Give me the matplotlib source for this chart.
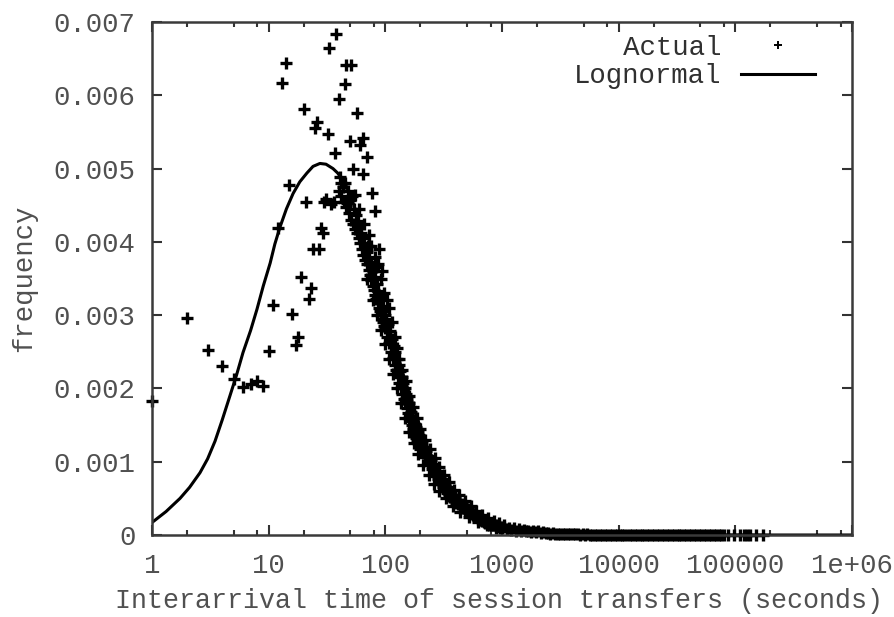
import matplotlib
matplotlib.use("Agg")
import matplotlib.pyplot as plt
from matplotlib.ticker import FixedLocator, NullFormatter

# sparse points at short interarrival times
low_x = [1, 2, 3, 4, 5, 6, 7, 8, 9, 10, 11, 12, 13, 14, 15, 16, 17, 18, 19,
         20, 21, 22, 23, 24, 25, 26, 27, 28, 29, 30, 31, 32, 33, 34, 36, 37,
         38, 40, 42, 45, 46, 50, 51, 53, 55, 57, 61, 64, 64.5, 70, 77, 81]
low_y = [0.00183, 0.00296, 0.00252, 0.00231, 0.00213, 0.00202, 0.00206,
         0.00210, 0.00203, 0.00251, 0.00314, 0.00419, 0.00617, 0.00644,
         0.00477, 0.00301, 0.00259, 0.00270, 0.00352, 0.00581, 0.00454,
         0.00322, 0.00337, 0.00390, 0.00556, 0.00563, 0.00390, 0.00419,
         0.00412, 0.00454, 0.00458, 0.00547, 0.00664, 0.00452, 0.00455,
         0.00521, 0.00683, 0.00595, 0.00480, 0.00615, 0.00641, 0.00537,
         0.00641, 0.00499, 0.00464, 0.00576, 0.00532, 0.00542, 0.00492,
         0.00516, 0.00467, 0.00442]

# the dense descending cloud
cloud_x = list(range(40, 101)) + list(range(102, 201, 2)) + \
    list(range(205, 401, 5)) + list(range(410, 801, 10)) + \
    list(range(820, 1001, 20))
cloud_y = [
    0.00470, 0.00488, 0.00462, 0.00475, 0.00455, 0.00481, 0.00448, 0.00453,
    0.00470, 0.00440, 0.00457, 0.00430, 0.00462, 0.00425, 0.00445, 0.00418,
    0.00436, 0.00412, 0.00428, 0.00405, 0.00422, 0.00398, 0.00412, 0.00390,
    0.00405, 0.00382, 0.00398, 0.00375, 0.00392, 0.00370, 0.00386, 0.00395,
    0.00362, 0.00378, 0.00355, 0.00372, 0.00348, 0.00366, 0.00340, 0.00360,
    0.00335, 0.00352, 0.00328, 0.00366, 0.00322, 0.00342, 0.00318, 0.00333,
    0.00310, 0.00390, 0.00305, 0.00325, 0.00300, 0.00360, 0.00295, 0.00312,
    0.00290, 0.00305, 0.00285, 0.00300, 0.00282,
    0.00295, 0.00270, 0.00288, 0.00262, 0.00278, 0.00250, 0.00268, 0.00242,
    0.00258, 0.00232, 0.00250, 0.00225, 0.00240, 0.00216, 0.00232, 0.00208,
    0.00224, 0.00200, 0.00216, 0.00193, 0.00208, 0.00186, 0.00200, 0.00180,
    0.00193, 0.00173, 0.00186, 0.00166, 0.00180, 0.00160, 0.00174, 0.00155,
    0.00168, 0.00150, 0.00162, 0.00145, 0.00157, 0.00141, 0.00152, 0.00136,
    0.00148, 0.00132, 0.00144, 0.00128, 0.00140, 0.00125, 0.00136, 0.00121,
    0.00132, 0.00118,
    0.00126, 0.00112, 0.00120, 0.00106, 0.00114, 0.00100, 0.00108, 0.00095,
    0.00103, 0.00090, 0.00097, 0.00085, 0.00093, 0.00081, 0.00088, 0.00077,
    0.00084, 0.00073, 0.00080, 0.00070, 0.00076, 0.00066, 0.00073, 0.00063,
    0.00069, 0.00060, 0.00066, 0.00057, 0.00063, 0.00054, 0.00060, 0.00052,
    0.00057, 0.00050, 0.00055, 0.00048, 0.00052, 0.00046, 0.00050, 0.00044,
    0.00047, 0.00042, 0.00045, 0.00039, 0.00042, 0.00037, 0.00039, 0.00034,
    0.00037, 0.00032, 0.00035, 0.00030, 0.00033, 0.00028, 0.00031, 0.00027,
    0.00029, 0.00025, 0.00028, 0.00024, 0.00026, 0.00022, 0.00025, 0.00021,
    0.00024, 0.00020, 0.00022, 0.00019, 0.00021, 0.00018, 0.00020, 0.00017,
    0.00019, 0.00016, 0.00018, 0.00015, 0.00017, 0.00014, 0.00016, 0.00014,
    0.00015, 0.00013, 0.00014, 0.00012, 0.00013, 0.00011, 0.00012, 0.00010,
    0.00011, 0.00009]

# points along the upper and lower edges of the cloud
edge_x = [60, 66, 72, 76, 82, 86, 92, 98, 104, 108, 114, 120, 126, 132, 140,
          150, 160, 172, 185, 200, 220, 240, 265, 290, 320, 350, 390, 430,
          480, 540, 600, 680, 760, 850, 950, 1050,
          70, 78, 85, 92, 100, 108, 116, 125, 135, 146, 160, 175, 190, 210,
          235, 260, 290, 330, 380, 440, 520, 620, 740, 880]
edge_y = [0.00445, 0.00425, 0.00410, 0.00395, 0.00380, 0.00370, 0.00350,
          0.00330, 0.00320, 0.00310, 0.00290, 0.00270, 0.00255, 0.00240,
          0.00225, 0.00210, 0.00190, 0.00175, 0.00160, 0.00145, 0.00130,
          0.00118, 0.00105, 0.00093, 0.00082, 0.00072, 0.00062, 0.00054,
          0.00046, 0.00039, 0.00033, 0.00027, 0.00023, 0.00019, 0.00016,
          0.00013,
          0.00350, 0.00320, 0.00300, 0.00280, 0.00260, 0.00240, 0.00220,
          0.00200, 0.00180, 0.00160, 0.00140, 0.00125, 0.00110, 0.00095,
          0.00082, 0.00070, 0.00060, 0.00050, 0.00040, 0.00031, 0.00024,
          0.00018, 0.00013, 0.00010]

# long tail along the bottom
tail_x = [1050, 1100, 1150, 1200, 1260, 1320, 1390, 1460, 1530, 1600, 1680,
          1760, 1850, 1940, 2040, 2140, 2250, 2360, 2480, 2600, 2730, 2870,
          3010, 3160, 3320, 3490, 3660, 3840, 4030, 4240, 4450, 4670, 4900,
          5150, 5400, 5670, 5960, 6260, 6570, 6900, 7250, 7610, 7990, 8390,
          8810, 9250, 9710, 10200, 10700, 11200, 11800, 12400, 13000, 13700,
          14300, 15100, 15800, 16600, 17400, 18300, 19200, 20200, 21200,
          22300, 23400, 24500, 25800, 27000, 28400, 29800, 31300, 32900,
          34500, 36200, 38100, 40000, 42000, 44100, 46300, 48600, 51000,
          53600, 56300, 59100, 62000, 65100, 68400, 71800, 75400, 79200,
          86000, 97000, 110000, 118000, 126000, 134000, 150000, 172000]
tail_y = [0.00011, 0.00008, 0.00010, 0.00007, 0.00009, 0.00006, 0.00008,
          0.00005, 0.00007, 0.00005, 0.00006, 0.00004, 0.00005, 0.00004,
          0.00005, 0.00003, 0.00004, 0.00003, 0.00003, 0.00002, 0.00003,
          0.00002, 0.00002, 0.00001, 0.00002, 0.00001, 0.000012, 0.000008,
          0.00001, 0.000007, 0.000009, 0.000006, 0.000008, 0.000005,
          0.000007, 0.000005, 0.000006, 0.000004, 0.000006, 0.000004,
          0.000005, 0.000003, 0.000005, 0.000003, 0.000004, 0.000003,
          0.000004, 0.000002, 0.000004, 0.000002, 0.000003, 0.000002,
          0.000003, 0.000002, 0.000003, 0.000002, 0.000002, 0.000001,
          0.000002, 0.000001, 0.000002, 0.000001, 0.000002, 0.000001,
          0.000002, 0.000001, 0.000001, 0.000001, 0.000002, 0.000001,
          0.000001, 0.000001, 0.000001, 0.000001, 0.000001, 0.000001,
          0.000001, 0.000001, 0.000001, 0.000001, 0.000001, 0.000001,
          0.000001, 0.000001, 0.000001, 0.000001, 0.000001, 0.000001,
          0.000001, 0.000001, 0.000001, 0.000001, 0.000001, 0.000001,
          0.000001, 0.000001, 0.000001, 0.000001]

# fitted lognormal, points
curve_x = [1, 1.32, 1.74, 2.1, 2.58, 3.0, 3.47, 4.0, 4.66, 5.3, 6.03, 7.0,
           7.94, 9.0, 10.3, 11.3, 12.5, 14.2, 16.2, 18.5, 21.3, 24, 27.5, 31,
           35.6, 39, 43.4, 49.8, 55, 60.7, 67, 74, 84, 95.5, 108, 126, 143,
           163, 190, 219, 254, 294, 360, 437, 560, 759, 1000, 1259, 2000,
           4000, 10000, 100000, 1000000]
curve_y = [0.00017, 0.00032, 0.00050, 0.00065, 0.00085, 0.00104, 0.00128,
           0.00157, 0.00190, 0.00218, 0.00249, 0.00279, 0.00308, 0.00340,
           0.00371, 0.00397, 0.00420, 0.00445, 0.00466, 0.00482, 0.00494,
           0.00503, 0.00507, 0.00506, 0.00500, 0.00494, 0.00484, 0.00466,
           0.00445, 0.00420, 0.00397, 0.00371, 0.00340, 0.00308, 0.00279,
           0.00249, 0.00218, 0.00190, 0.00157, 0.00128, 0.00104, 0.00085,
           0.00062, 0.00048, 0.00031, 0.00017, 0.00010, 0.00006, 0.00002,
           0.000003, 0.0, 0.0, 0.0]

yticks = [0, 0.001, 0.002, 0.003, 0.004, 0.005, 0.006, 0.007]
ytick_labels = ["0", "0.001", "0.002", "0.003", "0.004", "0.005", "0.006", "0.007"]
xticks = [1, 10, 100, 1000, 10000, 100000, 1000000]
xtick_labels = ["1", "10", "100", "1000", "10000", "100000", "1e+06"]

mono = "Liberation Mono"
txt = "#505050"
fs = 19.7

fig = plt.figure(figsize=(8.95, 6.17), dpi=100)
ax = fig.add_axes([0.1698, 0.1329, 0.7822, 0.8314])

fit, = ax.plot(curve_x, curve_y, "-", color="black", linewidth=2.2,
               label="Lognormal")
all_x = low_x + cloud_x + edge_x + tail_x
all_y = low_y + cloud_y + edge_y + tail_y
pts, = ax.plot(all_x, all_y, "+", color="black", markersize=8,
               markeredgewidth=2.4, clip_on=False, label="   Actual")

ax.set_xscale("log")
ax.set_xlim(1, 1e6)
ax.set_ylim(0, 0.007)

ax.set_xticks(xticks)
ax.set_xticklabels(xtick_labels)
minors = [m * 10 ** e for e in range(6) for m in (2, 5, 8)]
ax.xaxis.set_minor_locator(FixedLocator(minors))
ax.xaxis.set_minor_formatter(NullFormatter())
ax.set_yticks(yticks)
ax.set_yticklabels(ytick_labels)

ax.tick_params(which="major", direction="in", length=7, width=1.5,
               top=True, right=True, color="#333333", labelcolor=txt,
               labelsize=fs)
ax.tick_params(which="minor", direction="in", length=3.5, width=1.5,
               top=True, right=True, color="#333333")
ax.tick_params(axis="x", pad=13)
ax.tick_params(axis="y", pad=12)
for lab in ax.get_xticklabels() + ax.get_yticklabels():
    lab.set_family(mono)

for s in ax.spines.values():
    s.set_linewidth(1.8)
    s.set_color("#3a3a3a")

ax.set_xlabel("Interarrival time of session transfers (seconds)",
              family=mono, fontsize=19.2, color=txt)
ax.xaxis.set_label_coords(0.495, -0.104)
ax.set_ylabel("frequency", family=mono, fontsize=fs, color=txt, labelpad=12)

leg = ax.legend(handles=[pts, fit], loc="upper right",
                bbox_to_anchor=(0.963, 0.997), borderaxespad=0,
                frameon=False, markerfirst=False, handlelength=2.7,
                handletextpad=0.73, labelspacing=0.1, markerscale=0.7,
                prop={"family": mono, "size": fs})
leg.legend_handles[0].set_markeredgewidth(1.4)
for t in leg.get_texts():
    t.set_color("#303030")

fig.savefig("out.png", dpi=100)
